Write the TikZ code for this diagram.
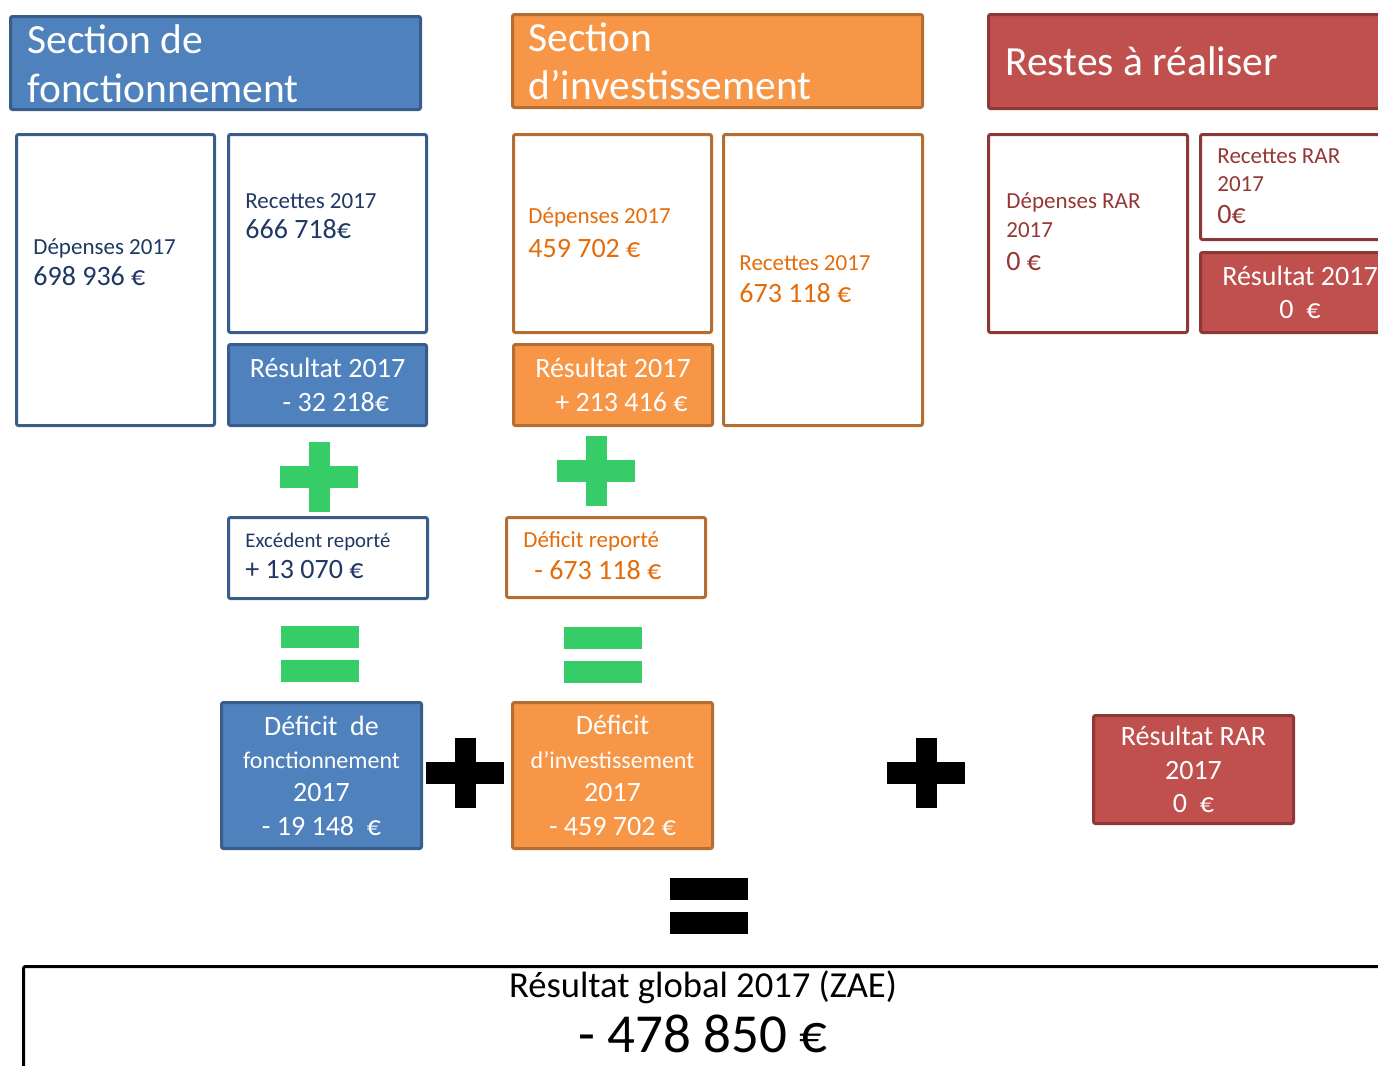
\documentclass[tikz,border=0pt]{standalone}
\usepackage{fontspec}
\setmainfont{Carlito}
\definecolor{fonctFill}{HTML}{4F81BD}
\definecolor{fonctLine}{HTML}{385D8A}
\definecolor{fonctText}{HTML}{203864}
\definecolor{invFill}{HTML}{F79646}
\definecolor{invLine}{HTML}{B66D31}
\definecolor{invText}{HTML}{E46C0A}
\definecolor{rarFill}{HTML}{C0504D}
\definecolor{rarLine}{HTML}{8C3836}
\definecolor{rarText}{HTML}{953735}
\definecolor{signGreen}{HTML}{36CC68}
\newcommand{\tikzPlusSign}[3]{
  \node[fill=#3,inner sep=0pt,minimum width=39pt,minimum height=11pt] (#1) at (#2) {};
  \node[fill=#3,inner sep=0pt,minimum width=10.5pt,minimum height=35pt] (#1v) at (#2) {};
}
\newcommand{\tikzEqualSign}[3]{
  \node[fill=#3,inner sep=0pt,minimum width=39pt,minimum height=11pt,yshift=8.4pt] (#1t) at (#2) {};
  \node[fill=#3,inner sep=0pt,minimum width=39pt,minimum height=11pt,yshift=-8.4pt] (#1b) at (#2) {};
}

\begin{document}
\begin{tikzpicture}[x=0.5pt,y=-0.5pt,
  panel/.style={line width=1.5pt,rounded corners=1pt,inner sep=0pt,anchor=north west},
  emptypanel/.style={panel,fill=white},
  fillpanel/.style={panel,text=white,align=center,font=\fontsize{14}{16.7}\selectfont},
  headtxt/.style={anchor=base west,inner sep=0pt,text=white,font=\fontsize{20.75}{25}\selectfont},
  lbl/.style={anchor=base west,inner sep=0pt,font=\fontsize{11.5}{14}\selectfont},
  num/.style={anchor=base west,inner sep=0pt,font=\fontsize{14}{16.7}\selectfont}]

  \useasboundingbox (0,0) rectangle (1378,1066);

  % section de fonctionnement
  \node[panel,draw=fonctLine,fill=fonctFill,minimum width=205pt,minimum height=46.5pt] (fonctHead) at (9,15) {};
  \node[headtxt] (fonctHeadA) at (27,53) {Section de};
  \node[headtxt] (fonctHeadB) at (27,102) {fonctionnement};

  \node[emptypanel,draw=fonctLine,minimum width=99pt,minimum height=145.5pt] (fonctDep) at (15,133) {};
  \node[lbl,text=fonctText] (fonctDepA) at (33,254) {Dépenses 2017};
  \node[num,text=fonctText] (fonctDepB) at (33,285) {698 936 €};

  \node[emptypanel,draw=fonctLine,minimum width=99pt,minimum height=99pt] (fonctRec) at (227,133) {};
  \node[lbl,text=fonctText] (fonctRecA) at (245,208) {Recettes 2017};
  \node[num,text=fonctText] (fonctRecB) at (245,238) {666 718€};

  \node[fillpanel,draw=fonctLine,fill=fonctFill,minimum width=99pt,minimum height=40.5pt] (fonctRes) at (227,343) {Résultat 2017\\\hspace*{0.6em}- 32 218€};

  \tikzPlusSign{fonctPlus}{319,477}{signGreen}

  \node[emptypanel,draw=fonctLine,minimum width=99.5pt,minimum height=40.5pt] (fonctExc) at (227,516) {};
  \node[lbl,text=fonctText,font=\fontsize{10.4}{14}\selectfont] (fonctExcA) at (245,547) {Excédent reporté};
  \node[num,text=fonctText] (fonctExcB) at (245,578) {+ 13 070 €};

  \tikzEqualSign{fonctEq}{320,654}{signGreen}

  \node[fillpanel,draw=fonctLine,fill=fonctFill,minimum width=100pt,minimum height=73pt] (fonctDef) at (220,701)
    {Déficit\ \ de\\{\fontsize{12}{16.7}\selectfont fonctionnement}\\2017\\- 19 148\ \ €};

  % section d'investissement
  \node[panel,draw=invLine,fill=invFill,minimum width=205pt,minimum height=46.5pt] (invHead) at (511,13) {};
  \node[headtxt] (invHeadA) at (528,51) {Section};
  \node[headtxt] (invHeadB) at (528,99) {d’investissement};

  \node[emptypanel,draw=invLine,minimum width=99pt,minimum height=99pt] (invDep) at (512,133) {};
  \node[lbl,text=invText] (invDepA) at (528,223) {Dépenses 2017};
  \node[num,text=invText] (invDepB) at (528,257) {459 702 €};

  \node[fillpanel,draw=invLine,fill=invFill,minimum width=99.5pt,minimum height=40.5pt] (invRes) at (512,343) {Résultat 2017\\\hspace*{0.6em}+ 213 416 €};

  \node[emptypanel,draw=invLine,minimum width=99.5pt,minimum height=145.5pt] (invRec) at (722,133) {};
  \node[lbl,text=invText] (invRecA) at (739,270) {Recettes 2017};
  \node[num,text=invText] (invRecB) at (739,302) {673 118 €};

  \tikzPlusSign{invPlus}{596,471}{signGreen}

  \node[emptypanel,draw=invLine,minimum width=99.5pt,minimum height=40pt] (invDefRep) at (505,516) {};
  \node[lbl,text=invText] (invDefRepA) at (523,547) {Déficit reporté};
  \node[num,text=invText] (invDefRepB) at (534,579) {- 673 118 €};

  \tikzEqualSign{invEq}{603,655}{signGreen}

  \node[fillpanel,draw=invLine,fill=invFill,minimum width=100pt,minimum height=73pt] (invDef) at (511,701)
    {Déficit\\{\fontsize{12}{16.7}\selectfont d’investissement}\\2017\\- 459 702 €};

  \tikzPlusSign{sumPlusA}{465,773}{black}
  \tikzPlusSign{sumPlusB}{926,773}{black}

  % restes a realiser
  \node[panel,draw=rarLine,fill=rarFill,minimum width=206pt,minimum height=47pt] (rarHead) at (987,13) {};
  \node[headtxt] (rarHeadA) at (1005,75) {Restes à réaliser};

  \node[emptypanel,draw=rarLine,minimum width=99.5pt,minimum height=99pt] (rarDep) at (987,133) {};
  \node[lbl,text=rarText] (rarDepA) at (1006,208) {Dépenses RAR};
  \node[lbl,text=rarText] (rarDepB) at (1006,237) {2017};
  \node[num,text=rarText] (rarDepC) at (1006,270) {0 €};

  \node[emptypanel,draw=rarLine,minimum width=99.5pt,minimum height=52.5pt] (rarRec) at (1199,133) {};
  \node[lbl,text=rarText] (rarRecA) at (1217,163) {Recettes RAR};
  \node[lbl,text=rarText] (rarRecB) at (1217,191) {2017};
  \node[num,text=rarText] (rarRecC) at (1217,223) {0€};

  \node[fillpanel,draw=rarLine,fill=rarFill,minimum width=99.5pt,minimum height=40pt] (rarRes) at (1199,251) {Résultat 2017\\0\ \ €};

  \node[fillpanel,draw=rarLine,fill=rarFill,minimum width=100pt,minimum height=54pt] (rarTotal) at (1092,714) {Résultat RAR\\2017\\0\ \ €};

  % resultat global
  \tikzEqualSign{globalEq}{709,906}{black}

  \node[panel,draw=black,fill=white,minimum width=739pt,minimum height=117.5pt] (globalBox) at (22,965) {};
  \node[anchor=base,inner sep=0pt,font=\fontsize{18.3}{22}\selectfont] (globalTitle) at (703,997) {Résultat global 2017 (ZAE)};
  \node[anchor=base,inner sep=0pt,font=\fontsize{27.5}{33}\selectfont] (globalValue) at (703,1052) {- 478 850 €};

\end{tikzpicture}
\end{document}
